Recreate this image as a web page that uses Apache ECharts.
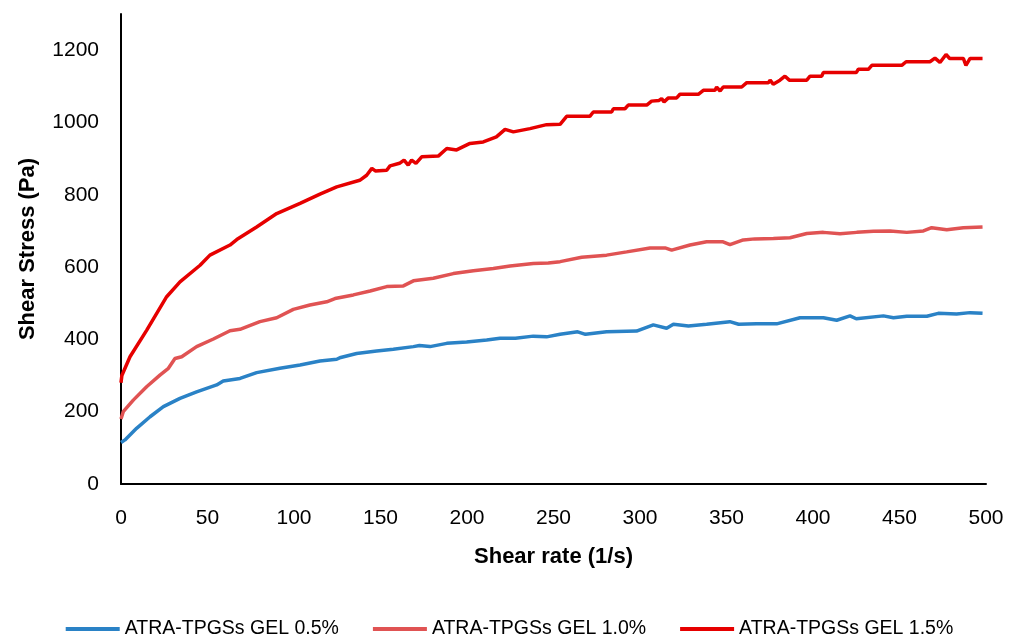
<!DOCTYPE html>
<html>
<head>
<meta charset="utf-8">
<script src="https://cdn.jsdelivr.net/npm/echarts@6/dist/echarts.min.js"></script>
<style>html,body{margin:0;padding:0;background:#fff}#c{width:1019px;height:637px}</style>
</head>
<body>
<div id="c"></div>
<script>
const seriesNames = ['ATRA-TPGSs GEL 0.5%', 'ATRA-TPGSs GEL 1.0%', 'ATRA-TPGSs GEL 1.5%'];
const xTicks = [0, 50, 100, 150, 200, 250, 300, 350, 400, 450, 500];
const yTicks = [0, 200, 400, 600, 800, 1000, 1200];

const rate05 = [0,2.3,9,16.8,24.5,34.1,43.7,55.3,59.1,68.8,78.4,91.9,103.5,115,124.7,127,136.2,147.8,157.4,169,172.5,178.6,188.3,199.8,211.4,219.1,228,238.3,246,253.8,264,268.5,280.7,298,307.7,315.4,319.3,328,338.5,351.9,357,367.4,379,392.5,406,413.7,421.4,425,440.7,446.5,454.2,465.8,472.4,483,490.8,498];
const stress05 = [115,122,154,186,214,237,255,274,285,292,308,320,329,340,345,350,361,368,373,380,383,380,389,393,398,403,403,409,407,414,421,414,421,423,440,431,442,437,442,449,442,443,443,460,460,453,465,457,465,460,464,464,472,470,474,472];

const rate10 = [0,1.3,7.1,14.8,22.5,27.4,31.2,35.1,43.7,53.4,63,68.8,80.3,90,99.6,109.2,118.9,123.7,134.3,144,153.6,163.2,169,180.5,192.1,203.7,215.2,224.9,238.3,247,253.8,266.3,280.7,292.3,305.8,314.5,318.3,328.9,338.5,348,352,359.7,366.4,377.1,386.7,396.4,406,415.6,425.3,434.9,444.5,454.2,463.8,468.6,477.3,486.9,498];
const stress10 = [180,200,232,269,301,320,347,352,380,401,424,428,449,460,483,495,504,513,523,534,546,548,562,569,582,590,596,603,610,611,615,627,633,642,653,653,647,661,670,670,662,675,678,679,681,693,696,692,696,699,700,696,700,709,703,709,711];

const rate15 = [0,0.5,5.2,14.8,26.4,34.1,45.7,51.4,63,66.9,78.4,90,103.5,115,124.7,138,142,145,147,153.6,155.5,161,163.6,166,168,170.5,173.8,183.4,188.3,194,201.7,209.4,217,222,226.8,236.4,246,253.8,257.6,271,273,283.6,284.6,291.3,293.2,303.9,306.7,311,312.5,313.9,316.4,321.2,323.1,333.7,336.6,343.4,344.3,346.3,348.1,358.8,361.7,374.2,375.2,377,380.9,383.8,386.3,396.4,398.3,405,406,425,426.2,432,434,451.3,453.8,467.6,470.5,473.4,476.9,479,486.9,488.4,490.8,498];
const stress15 = [280,300,352,425,518,559,605,633,661,676,711,748,776,802,822,840,854,873,866,868,880,887,896,882,896,887,905,907,928,924,942,946,960,981,974,983,994,995,1017,1017,1029,1029,1038,1038,1048,1048,1059,1061,1066,1057,1068,1068,1078,1078,1089,1089,1098,1087,1098,1098,1110,1110,1117,1106,1117,1128,1117,1117,1128,1128,1138,1138,1147,1147,1158,1158,1168,1168,1178,1166,1188,1177,1177,1158,1177,1177];

const colors = ['#2a82c6', '#e05353', '#e60000'];
const zip = (a, b) => a.map((v, i) => [v, b[i]]);
const FONT = 'Liberation Sans';

const chart = echarts.init(document.getElementById('c'), null, {renderer: 'canvas'});
chart.setOption({
  animation: false,
  backgroundColor: '#fff',
  grid: {left: 121, right: 33, top: 14, bottom: 153, containLabel: false},
  xAxis: {
    type: 'value', min: xTicks[0], max: xTicks[xTicks.length - 1], interval: 50,
    name: 'Shear rate (1/s)', nameLocation: 'middle', nameGap: 62,
    nameTextStyle: {fontFamily: FONT, fontSize: 22, fontWeight: 'bold', color: '#000'},
    axisLine: {lineStyle: {color: '#000', width: 2}},
    axisTick: {show: false},
    splitLine: {show: false},
    axisLabel: {fontFamily: FONT, fontSize: 21, color: '#000', margin: 24}
  },
  yAxis: {
    type: 'value', min: 0, max: 1300, interval: 200,
    name: 'Shear Stress (Pa)', nameLocation: 'middle', nameGap: 82, nameRotate: 90,
    nameTextStyle: {fontFamily: FONT, fontSize: 22, fontWeight: 'bold', color: '#000'},
    axisLine: {show: true, lineStyle: {color: '#000', width: 2}},
    axisTick: {show: false},
    splitLine: {show: false},
    axisLabel: {fontFamily: FONT, fontSize: 21, color: '#000', margin: 22,
      formatter: v => (yTicks.indexOf(v) >= 0 ? String(v) : '')}
  },
  legend: {
    top: 614, left: 'center', icon: 'rect', itemWidth: 54, itemHeight: 4, itemGap: 34,
    textStyle: {fontFamily: FONT, fontSize: 19.5, color: '#000'},
    data: seriesNames
  },
  series: [
    {name: seriesNames[0], type: 'line', data: zip(rate05, stress05), showSymbol: false, color: colors[0], lineStyle: {width: 3.5, color: colors[0]}},
    {name: seriesNames[1], type: 'line', data: zip(rate10, stress10), showSymbol: false, color: colors[1], lineStyle: {width: 3.5, color: colors[1]}},
    {name: seriesNames[2], type: 'line', data: zip(rate15, stress15), showSymbol: false, color: colors[2], lineStyle: {width: 3.5, color: colors[2]}}
  ]
});
</script>
</body>
</html>
